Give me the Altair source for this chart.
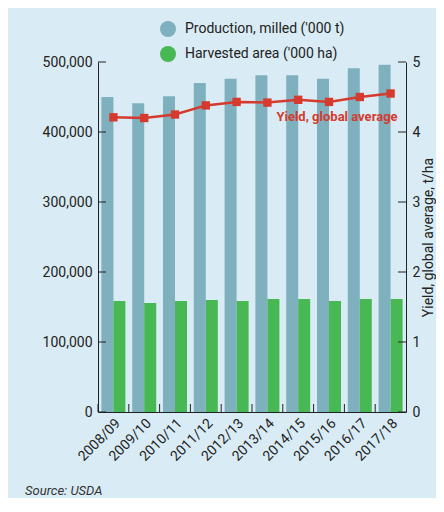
import altair as alt
import pandas as pd

seasons = ["2008/09", "2009/10", "2010/11", "2011/12", "2012/13",
           "2013/14", "2014/15", "2015/16", "2016/17", "2017/18"]
production = [450000, 441000, 451000, 470000, 476000, 481000, 481000, 476000, 491000, 496000]
area = [158600, 155700, 158600, 160000, 158600, 161400, 161400, 158600, 161400, 161400]
yields = [4.21, 4.20, 4.25, 4.38, 4.43, 4.42, 4.46, 4.43, 4.50, 4.55]
left_ticks = [0, 100000, 200000, 300000, 400000, 500000]
right_ticks = [0, 1, 2, 3, 4, 5]

PROD = "Production, milled ('000 t)"
AREA = "Harvested area ('000 ha)"
FONT = "Roboto, sans-serif"
BG = "#d9ecf5"
INK = "#222222"
RED = "#d6392d"

bars_df = pd.DataFrame({
    "season": seasons * 2,
    "series": [PROD] * len(seasons) + [AREA] * len(seasons),
    "value": production + area,
})
yield_df = pd.DataFrame({"season": seasons, "yield": yields})
season_df = pd.DataFrame({"season": seasons})
lt_df = pd.DataFrame({"v": left_ticks})
rt_df = pd.DataFrame({"v": right_ticks})

xscale = alt.Scale(domain=seasons, paddingInner=0.22, paddingOuter=0.11)
x_axis = alt.Axis(title=None, labelAngle=-45, labelFont=FONT, labelFontSize=14,
                  labelColor=INK, ticks=False, domainColor=INK, labelPadding=4)

bars = alt.Chart(bars_df).mark_bar().encode(
    x=alt.X("season:N", scale=xscale, axis=x_axis, sort=seasons),
    xOffset=alt.XOffset("series:N", sort=[PROD, AREA],
                        scale=alt.Scale(domain=[PROD, AREA], paddingInner=0, paddingOuter=0)),
    y=alt.Y("value:Q", scale=alt.Scale(domain=[0, 500000], nice=False),
            axis=alt.Axis(title=None, values=left_ticks, format=",d", ticks=False,
                          labelFont=FONT, labelFontSize=14, labelColor=INK,
                          domainColor=INK, labelPadding=6, grid=False)),
    color=alt.Color("series:N", sort=[PROD, AREA],
                    scale=alt.Scale(domain=[PROD, AREA], range=["#7fb0be", "#48b854"]),
                    legend=alt.Legend(title=None, orient="none", legendX=62, legendY=-41,
                                      symbolType="circle", symbolSize=256, symbolStrokeWidth=0,
                                      labelFont=FONT, labelFontSize=14, labelColor=INK,
                                      labelOffset=9, rowPadding=9, padding=0)),
)

left_tick_marks = alt.Chart(lt_df).mark_rule(color=INK, strokeWidth=1).encode(
    y=alt.Y("v:Q"), x=alt.value(0), x2=alt.value(8)
)
x_tick_marks = alt.Chart(season_df).mark_rule(color=INK, strokeWidth=1, xOffset=-3.39).encode(
    x=alt.X("season:N", bandPosition=0), y=alt.value(342), y2=alt.value(350)
)
source = alt.Chart(pd.DataFrame({"t": ["Source: USDA"]})).mark_text(
    font=FONT, fontSize=13, fontStyle="italic", color="#333333", align="left", baseline="alphabetic"
).encode(text="t:N", x=alt.value(-73), y=alt.value(433))

left_group = alt.layer(bars, left_tick_marks, x_tick_marks, source)

yscale = alt.Scale(domain=[0, 5], nice=False)
line = alt.Chart(yield_df).mark_line(color=RED, strokeWidth=2.5).encode(
    x=alt.X("season:N"),
    y=alt.Y("yield:Q", scale=yscale,
            axis=alt.Axis(title="Yield, global average, t/ha", orient="right", values=right_ticks,
                          format="d", ticks=False, labelFont=FONT, labelFontSize=14, labelColor=INK,
                          domainColor=INK, labelPadding=6, grid=False,
                          titleFont=FONT, titleFontSize=14, titleFontWeight="normal", titleColor=INK,
                          titleAngle=270, titleX=22, titleY=175, titleAlign="center",
                          titleBaseline="middle")),
)
pts = alt.Chart(yield_df).mark_point(shape="square", filled=True, size=70, color=RED, opacity=1).encode(
    x="season:N", y=alt.Y("yield:Q", scale=yscale)
)
label = alt.Chart(pd.DataFrame({"season": ["2017/18"], "t": ["Yield, global average"]})).mark_text(
    font=FONT, fontSize=13, fontWeight="bold", color=RED, align="right", baseline="alphabetic", dx=7
).encode(x="season:N", y=alt.Y(datum=4.16, scale=yscale), text="t:N")
right_tick_marks = alt.Chart(rt_df).mark_rule(color=INK, strokeWidth=1).encode(
    y=alt.Y("v:Q", scale=yscale), x=alt.value(300), x2=alt.value(308)
)
right_group = alt.layer(line, pts, label, right_tick_marks)

chart = alt.layer(left_group, right_group).resolve_scale(y="independent").properties(
    width=308, height=350,
    background=BG,
    padding={"left": 90, "top": 54, "right": 30, "bottom": 86},
    autosize=alt.AutoSizeParams(type="none"),
).configure_view(stroke=None)

chart.save("out.html", embed_options={"renderer": "svg", "actions": False})
